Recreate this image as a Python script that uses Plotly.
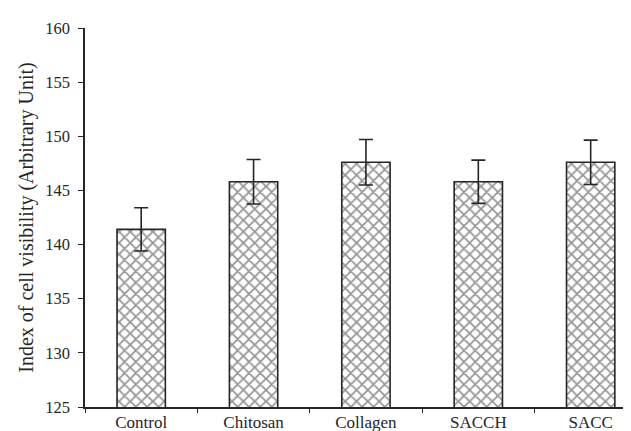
import plotly.graph_objects as go

categories = ["Control", "Chitosan", "Collagen", "SACCH", "SACC"]
values = [141.4, 145.8, 147.6, 145.8, 147.6]
errors = [2.0, 2.05, 2.1, 2.0, 2.05]
y_ticks = [125, 130, 135, 140, 145, 150, 155, 160]

font_family = "Liberation Serif, Times New Roman, serif"
ink = "#262626"

fig = go.Figure(
    go.Bar(
        x=categories,
        y=values,
        base=0,
        width=0.43,
        marker=dict(
            color="white",
            line=dict(color=ink, width=1.6),
            pattern=dict(shape="x", fgcolor="#2e2e2e", bgcolor="white", size=8, solidity=0.4),
        ),
        error_y=dict(type="data", array=errors, visible=True, color=ink, thickness=1.6, width=7),
    )
)

fig.update_layout(
    width=631,
    height=431,
    margin=dict(l=77, r=0, t=20, b=32),
    paper_bgcolor="white",
    plot_bgcolor="white",
    showlegend=False,
    font=dict(family=font_family, size=17, color=ink),
)

fig.update_xaxes(
    range=[-0.5, 4.43],
    showline=True,
    linecolor=ink,
    linewidth=1.5,
    ticks="outside",
    tickson="boundaries",
    ticklen=4,
    tickcolor=ink,
    showgrid=False,
    zeroline=False,
    ticklabelstandoff=-1,
    tickfont=dict(size=17, family=font_family, color=ink),
)

fig.update_yaxes(
    range=[125, 160],
    tickvals=y_ticks,
    showline=True,
    linecolor=ink,
    linewidth=1.5,
    ticks="outside",
    ticklen=5,
    tickcolor=ink,
    showgrid=False,
    zeroline=False,
    ticklabelstandoff=5,
    tickfont=dict(size=16.5, family=font_family, color=ink),
    title=dict(text="Index of cell visibility (Arbitrary Unit)", font=dict(size=20, family=font_family, color=ink), standoff=6),
)

fig.write_html("out.html")
